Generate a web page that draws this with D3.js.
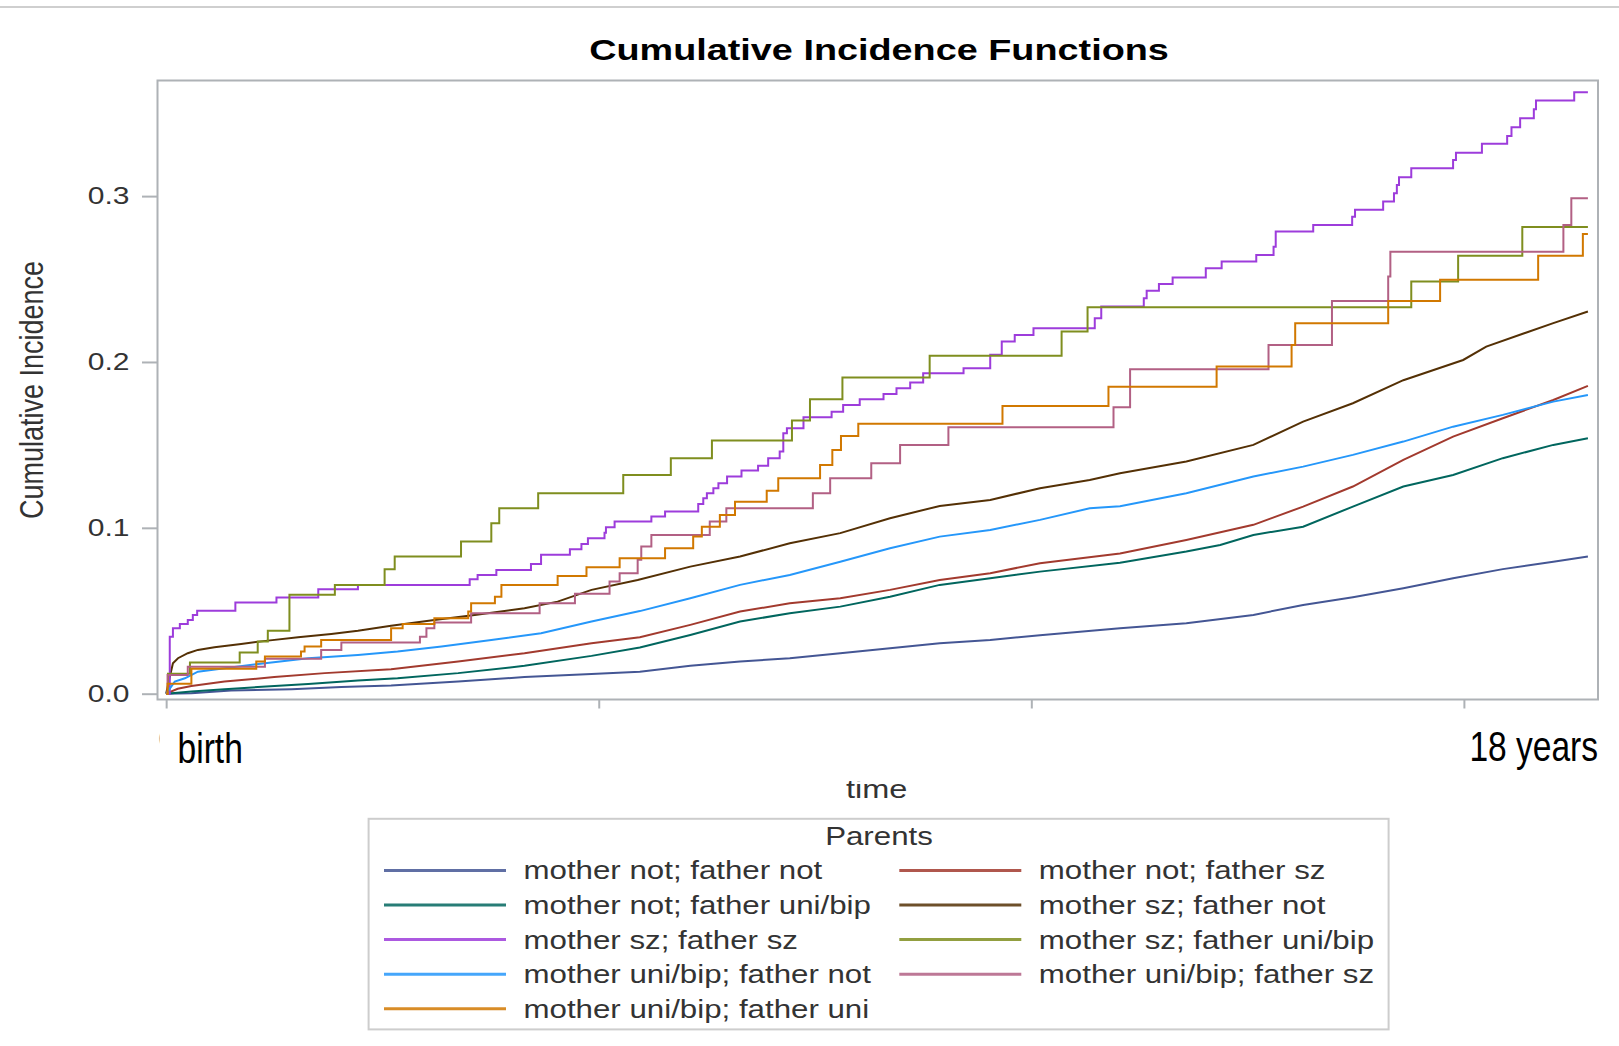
<!DOCTYPE html>
<html>
<head>
<meta charset="utf-8">
<script src="https://cdn.jsdelivr.net/npm/d3@7"></script>
<style>
  html, body { margin: 0; padding: 0; background: #fff; }
  svg { display: block; font-family: "Liberation Sans", Arial, sans-serif; }
</style>
</head>
<body>
<div id="chart"></div>
<script>
// groups in the order SAS plots them (legend is filled row by row, 2 columns)
var groups = [
	"mother not; father not",
	"mother not; father sz",
	"mother not; father uni/bip",
	"mother sz; father not",
	"mother sz; father sz",
	"mother sz; father uni/bip",
	"mother uni/bip; father not",
	"mother uni/bip; father sz",
	"mother uni/bip; father uni"
];
var groupColors = ["#445694", "#A23A2E", "#01665E", "#543005", "#9D3CDB", "#7F8E1F", "#2597FA", "#B26084", "#D17800"];

var yTicks = [0, 0.1, 0.2, 0.3];
var xTicks = [0, 6, 12, 18];
// only the edge of the "0" label still shows next to the pasted box
var xTickLabels = ["0", "", "", ""];

// [time in years, cumulative incidence]
var notNot = [[0,0],[0.35,0.0003],[0.90,0.0019],[1.74,0.0027],[2.43,0.004],[3.12,0.005],[4.05,0.0073],[4.97,0.010],[5.90,0.0119],[6.57,0.0133],[7.27,0.0168],[7.96,0.0194],[8.65,0.0214],[9.35,0.0244],[10.04,0.0274],[10.73,0.0304],[11.43,0.0324],[12.12,0.0352],[13.23,0.0395],[14.15,0.0425],[15.08,0.0475],[15.77,0.0535],[16.46,0.0582],[17.16,0.0636],[17.85,0.0696],[18.54,0.0751],[19.24,0.0796],[19.72,0.0827]];
var notSz = [[0,0],[0.16,0.003],[0.35,0.0047],[0.81,0.0073],[1.50,0.010],[2.20,0.0124],[3.12,0.0148],[4.05,0.0194],[4.97,0.0244],[5.90,0.0304],[6.57,0.034],[7.27,0.0415],[7.96,0.0495],[8.65,0.0545],[9.35,0.0576],[10.04,0.0626],[10.73,0.0686],[11.43,0.0726],[12.12,0.0787],[13.23,0.0845],[14.15,0.0927],[15.08,0.1018],[15.77,0.1128],[16.46,0.1249],[17.16,0.141],[17.85,0.155],[18.54,0.1661],[19.24,0.1771],[19.72,0.1856]];
var notUni = [[0,0],[0.35,0.0013],[0.81,0.0027],[1.27,0.004],[1.97,0.0059],[2.66,0.0079],[3.21,0.0093],[4.05,0.0124],[4.97,0.0168],[5.90,0.0228],[6.57,0.0279],[7.27,0.0354],[7.96,0.0435],[8.65,0.0485],[9.35,0.0525],[10.04,0.0585],[10.73,0.0656],[11.43,0.0696],[12.12,0.0736],[13.23,0.079],[14.15,0.0857],[14.62,0.0897],[15.08,0.0957],[15.77,0.1007],[16.46,0.1128],[17.16,0.1249],[17.85,0.1319],[18.54,0.142],[19.24,0.15],[19.72,0.154]];
var szNot = [[0,0],[0.05,0.010],[0.094,0.0184],[0.164,0.0214],[0.30,0.0244],[0.44,0.0264],[0.67,0.028],[1.04,0.030],[1.41,0.032],[1.83,0.034],[2.29,0.036],[2.66,0.0379],[3.12,0.0409],[3.72,0.0445],[4.28,0.0475],[4.97,0.0515],[5.43,0.0555],[5.90,0.0626],[6.54,0.0686],[7.27,0.0766],[7.96,0.0827],[8.65,0.0907],[9.35,0.0968],[10.04,0.1058],[10.73,0.1132],[11.43,0.1168],[12.12,0.1239],[12.81,0.1289],[13.23,0.1329],[14.15,0.14],[15.08,0.15],[15.77,0.164],[16.46,0.1751],[17.16,0.189],[17.99,0.2012],[18.31,0.2093],[19.24,0.2234],[19.72,0.2304]];
var szSz = [[0,0],[0.05,0.0344],[0.094,0.0395],[0.19,0.042],[0.30,0.0445],[0.37,0.0475],[0.43,0.050],[0.96,0.055],[1.53,0.058],[2.11,0.063],[2.66,0.0656],[4.21,0.069],[4.32,0.0716],[4.58,0.0746],[5.06,0.0782],[5.20,0.0837],[5.60,0.0871],[5.76,0.0903],[5.85,0.0937],[6.08,0.097],[6.10,0.1004],[6.22,0.1038],[6.73,0.1068],[6.92,0.1098],[7.38,0.1144],[7.45,0.1178],[7.50,0.1209],[7.59,0.1239],[7.66,0.1269],[7.78,0.1309],[7.98,0.1345],[8.21,0.1375],[8.35,0.142],[8.51,0.146],[8.56,0.157],[8.61,0.160],[8.84,0.1667],[9.23,0.170],[9.39,0.174],[9.62,0.1775],[9.95,0.1807],[10.13,0.1842],[10.32,0.1876],[10.50,0.1932],[11.06,0.1962],[11.43,0.2043],[11.59,0.2123],[11.77,0.2163],[12.03,0.2203],[12.88,0.2264],[12.97,0.2334],[13.56,0.2384],[13.60,0.243],[13.77,0.247],[13.96,0.251],[14.42,0.2565],[14.64,0.2605],[15.12,0.2645],[15.36,0.2695],[15.39,0.2786],[15.91,0.2826],[16.45,0.2876],[16.49,0.2917],[16.88,0.2967],[17.03,0.3017],[17.07,0.3067],[17.10,0.3114],[17.27,0.3168],[17.85,0.3218],[17.89,0.3262],[18.25,0.3315],[18.60,0.3363],[18.66,0.3415],[18.78,0.347],[18.97,0.3524],[19.00,0.3576],[19.53,0.3626],[19.72,0.3626]];
var szUni = [[0,0],[0.025,0.012],[0.33,0.0188],[1.02,0.0248],[1.27,0.0314],[1.41,0.038],[1.71,0.0596],[2.34,0.0656],[3.03,0.075],[3.17,0.0827],[4.09,0.0917],[4.51,0.1028],[4.62,0.1118],[5.16,0.1209],[6.34,0.1319],[7.0,0.142],[7.57,0.1526],[8.68,0.1647],[8.93,0.1775],[9.38,0.1906],[10.59,0.2037],[12.42,0.2183],[12.78,0.233],[17.27,0.2485],[17.92,0.264],[18.81,0.2814],[19.72,0.2814]];
var uniNot = [[0,0],[0.12,0.0073],[0.26,0.0093],[0.44,0.0133],[0.81,0.0154],[1.37,0.0184],[1.97,0.0214],[2.66,0.0234],[3.21,0.0254],[3.82,0.0284],[4.51,0.0324],[5.20,0.0365],[5.90,0.0435],[6.57,0.0498],[7.27,0.0576],[7.96,0.0656],[8.65,0.0716],[9.35,0.0796],[10.04,0.0877],[10.73,0.0947],[11.43,0.0987],[12.12,0.1048],[12.81,0.1118],[13.23,0.113],[14.15,0.1209],[15.08,0.1309],[15.77,0.1369],[16.46,0.144],[17.16,0.152],[17.85,0.161],[18.54,0.1681],[19.24,0.1761],[19.72,0.1801]];
var uniSz = [[0,0],[0.02,0.0113],[0.30,0.0163],[1.37,0.021],[2.15,0.0264],[2.43,0.0308],[3.52,0.0344],[3.61,0.0395],[3.72,0.0429],[4.23,0.0485],[5.18,0.0545],[5.67,0.0602],[6.15,0.0676],[6.29,0.0726],[6.54,0.0807],[6.59,0.0887],[6.73,0.0957],[7.54,0.1038],[7.77,0.1118],[8.97,0.1209],[9.21,0.1299],[9.78,0.139],[10.18,0.150],[10.85,0.1607],[13.14,0.1727],[13.37,0.1956],[15.29,0.2103],[16.17,0.2368],[16.95,0.2515],[16.98,0.2665],[19.38,0.2826],[19.49,0.2987],[19.72,0.2987]];
var uniUni = [[0,0],[0.02,0.006],[0.35,0.015],[1.25,0.0194],[1.37,0.0224],[1.87,0.0254],[1.92,0.0284],[2.15,0.0324],[3.12,0.0395],[3.28,0.042],[3.72,0.0455],[4.19,0.0495],[4.23,0.0545],[4.56,0.0585],[4.65,0.0656],[5.43,0.071],[5.83,0.0763],[6.29,0.0817],[6.92,0.0877],[7.31,0.0947],[7.43,0.1007],[7.68,0.1078],[7.89,0.1158],[8.33,0.1224],[8.49,0.1299],[9.07,0.1379],[9.24,0.147],[9.36,0.1554],[9.60,0.1627],[11.60,0.1735],[13.07,0.1851],[14.57,0.1972],[15.61,0.2103],[15.66,0.2234],[16.95,0.2368],[17.67,0.2495],[19.03,0.2641],[19.65,0.2772],[19.72,0.2772]];

var series = [notNot, notSz, notUni, szNot, szSz, szUni, uniNot, uniSz, uniUni];
// the small groups have few events, their steps show; the big ones are near smooth
var stepped = [false, false, false, false, true, true, false, true, true];

const width = 1619;
const height = 1046;

// plot frame
const frame = { left: 157.5, top: 80.5, right: 1598, bottom: 699.5 };

const xScale = d3.scaleLinear().domain([-0.12, 19.86]).range([frame.left, frame.right]);
const yScale = d3.scaleLinear().domain([-0.0035, 0.3697]).range([frame.bottom, frame.top]);

const frameColor = "#aeb2b6";
const textColor = "#333";

// the SAS picture was widened, so its text is drawn wider than the font
function stretch(sel, k){
	sel.each(function(){
		var w = this.getComputedTextLength();
		if (w > 0)
			d3.select(this).attr("textLength", w * k).attr("lengthAdjust", "spacingAndGlyphs");
	});
}

var svg = d3.select("#chart").append("svg")
	.attr("width", width)
	.attr("height", height);

svg.append("rect").attr("width", width).attr("height", height).attr("fill", "#fff");

// thin line at the very top of the page
svg.append("line")
	.attr("x1", 0).attr("x2", width)
	.attr("y1", 7).attr("y2", 7)
	.attr("stroke", "#cfcfcf").attr("stroke-width", 2);

// title
svg.append("text")
	.attr("x", 879).attr("y", 60)
	.attr("text-anchor", "middle")
	.style("font-size", "30px")
	.style("font-weight", "bold")
	.attr("fill", "#000")
	.text("Cumulative Incidence Functions")
	.call(stretch, 1.26);

// y axis
var yAxis = svg.append("g")
	.attr("transform", "translate(" + frame.left + ",0)")
	.call(d3.axisLeft(yScale).tickValues(yTicks).tickFormat(d3.format(".1f")).tickSize(15.5).tickPadding(12.5));
yAxis.select(".domain").remove();
yAxis.selectAll("line").attr("stroke", frameColor).attr("stroke-width", 2);
yAxis.selectAll("text")
	.attr("fill", textColor)
	.style("font-size", "24px")
	.style("font-family", "'Liberation Sans', Arial, sans-serif")
	.call(stretch, 1.25);

// x axis
var xAxis = svg.append("g")
	.attr("transform", "translate(0," + frame.bottom + ")")
	.call(d3.axisBottom(xScale).tickValues(xTicks).tickFormat((d, i) => xTickLabels[i]).tickSize(9).tickPadding(21));
xAxis.select(".domain").remove();
xAxis.selectAll("line").attr("stroke", frameColor).attr("stroke-width", 2);
xAxis.selectAll("text")
	.attr("fill", textColor)
	.style("font-size", "24px")
	.style("font-family", "'Liberation Sans', Arial, sans-serif")
	.call(stretch, 1.25);

// y label
svg.append("text")
	.attr("transform", "translate(43,390) scale(1.25,1) rotate(-90)")
	.attr("text-anchor", "middle")
	.attr("fill", textColor)
	.style("font-size", "27px")
	.text("Cumulative Incidence");

// x label
svg.append("text")
	.attr("x", 876.6).attr("y", 798)
	.attr("text-anchor", "middle")
	.attr("fill", textColor)
	.style("font-size", "26px")
	.text("time")
	.call(stretch, 1.25);

// curves
var stepLine = d3.line().x(d => xScale(d[0])).y(d => yScale(d[1])).curve(d3.curveStepAfter);
var smoothLine = d3.line().x(d => xScale(d[0])).y(d => yScale(d[1]));

var curves = svg.append("g");
curves.selectAll("path")
	.data(series)
	.enter()
	.append("path")
	.attr("fill", "none")
	.attr("stroke", (d, i) => groupColors[i])
	.attr("stroke-width", 2)
	.attr("stroke-linejoin", "miter")
	.attr("d", (d, i) => stepped[i] ? stepLine(d) : smoothLine(d));

// frame on top
svg.append("rect")
	.attr("x", frame.left).attr("y", frame.top)
	.attr("width", frame.right - frame.left)
	.attr("height", frame.bottom - frame.top)
	.attr("fill", "none")
	.attr("stroke", frameColor)
	.attr("stroke-width", 2);

// white box pasted over the tick labels, with its own (narrow) labels
svg.append("rect")
	.attr("x", 159.5).attr("y", 709)
	.attr("width", width - 159.5).attr("height", 72)
	.attr("fill", "#fff");

svg.append("text")
	.attr("transform", "translate(177.6,763) scale(0.78,1)")
	.attr("fill", "#000")
	.style("font-size", "43px")
	.text("birth");

svg.append("text")
	.attr("transform", "translate(" + frame.right + ",761) scale(0.78,1)")
	.attr("text-anchor", "end")
	.attr("fill", "#000")
	.style("font-size", "43px")
	.text("18 years");

// legend
var legendBox = { x: 368.6, y: 818.8, w: 1020, h: 210.6 };
var legend = svg.append("g");
legend.append("rect")
	.attr("x", legendBox.x).attr("y", legendBox.y)
	.attr("width", legendBox.w).attr("height", legendBox.h)
	.attr("fill", "none")
	.attr("stroke", "#cdcdcd")
	.attr("stroke-width", 2);

legend.append("text")
	.attr("x", 879).attr("y", 845)
	.attr("text-anchor", "middle")
	.attr("fill", textColor)
	.style("font-size", "25px")
	.text("Parents")
	.call(stretch, 1.25);

var colX = [384, 899.3];
var rowY0 = 870.4, rowGap = 34.6;

var item = legend.selectAll("g.item")
	.data(groups)
	.enter()
	.append("g")
	.attr("class", "item")
	.attr("transform", (d, i) => "translate(" + colX[i % 2] + "," + (rowY0 + Math.floor(i / 2) * rowGap) + ")");

item.append("line")
	.attr("x1", 0).attr("x2", 122)
	.attr("y1", 0).attr("y2", 0)
	.attr("stroke", (d, i) => groupColors[i])
	.attr("stroke-width", 3)
	.attr("stroke-opacity", 0.85);

item.append("text")
	.attr("x", 139.5)
	.attr("dy", "0.36em")
	.attr("fill", textColor)
	.style("font-size", "25px")
	.text(d => d)
	.call(stretch, 1.25);
</script>
</body>
</html>
